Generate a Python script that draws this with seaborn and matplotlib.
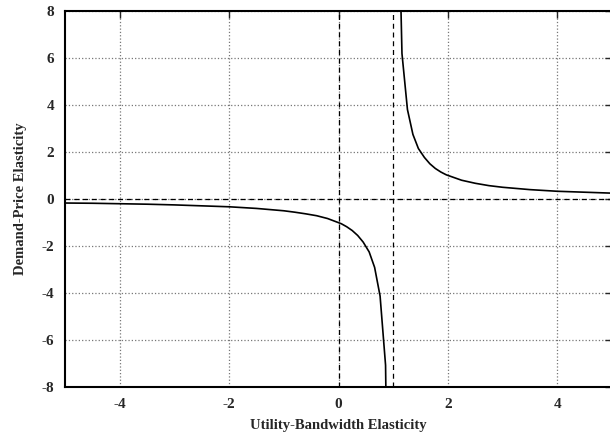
import numpy as np
import matplotlib
matplotlib.use("Agg")
import matplotlib.pyplot as plt
import seaborn as sns

# branch left of the asymptote
left_x = [-5.00, -4.50, -4.00, -3.50, -3.00, -2.50, -2.00, -1.50, -1.00, -0.80,
          -0.60, -0.40, -0.20, 0.05, 0.15, 0.25, 0.35, 0.45, 0.56, 0.66,
          0.76, 0.86, 0.96]
left_y = [-0.17, -0.18, -0.20, -0.22, -0.25, -0.29, -0.33, -0.40, -0.50, -0.56,
          -0.63, -0.71, -0.83, -1.05, -1.18, -1.34, -1.55, -1.83, -2.25, -2.91,
          -4.13, -7.07, -24.75]

# branch right of the asymptote
right_x = [1.06, 1.16, 1.26, 1.36, 1.46, 1.57, 1.67, 1.77, 1.87, 1.97,
           2.25, 2.50, 2.75, 3.00, 3.50, 4.00, 4.50, 5.00]
right_y = [16.50, 6.19, 3.81, 2.75, 2.15, 1.77, 1.50, 1.30, 1.15, 1.03,
           0.80, 0.67, 0.57, 0.50, 0.40, 0.33, 0.29, 0.25]

x_ticks = [-4, -2, 0, 2, 4]
y_ticks = [-8, -6, -4, -2, 0, 2, 4, 6, 8]
asymptote_x = 1

sns.set_style("white")
plt.rcParams['font.family'] = ['Liberation Serif', 'DejaVu Serif']
plt.rcParams['font.weight'] = 'bold'
plt.rcParams['axes.unicode_minus'] = False

fig = plt.figure(figsize=(6.1, 4.38), dpi=100)
# right border sits just past the image edge, as in the reference
ax = fig.add_axes([0.1066, 0.1164, 0.8967, 0.8584])

ax.grid(True, linestyle=':', color='#777777', linewidth=0.9)
ax.axhline(0, color='black', linestyle=(0, (4, 3)), linewidth=0.9)
ax.axvline(0, color='black', linestyle=(0, (4, 3)), linewidth=0.9)
ax.axvline(asymptote_x, color='black', linestyle=(0, (4, 3)), linewidth=0.9)

sns.lineplot(x=left_x, y=left_y, sort=False, estimator=None, color='black', linewidth=1.2, ax=ax)
sns.lineplot(x=right_x, y=right_y, sort=False, estimator=None, color='black', linewidth=1.2, ax=ax)

ax.set_xlim(-5, 5)
ax.set_ylim(-8, 8)
ax.set_xticks(x_ticks)
ax.set_yticks(y_ticks)
ax.tick_params(direction='in', length=5, width=1, top=True, right=True, labelsize=11, pad=8)
for lab in ax.get_xticklabels() + ax.get_yticklabels():
    lab.set_fontweight('bold')

for s in ax.spines.values():
    s.set_linewidth(1.5)
    s.set_color('black')

ax.set_xlabel('Utility-Bandwidth Elasticity', fontsize=10.5, fontweight='bold', labelpad=6)
ax.set_ylabel('Demand-Price Elasticity', fontsize=10.5, fontweight='bold', labelpad=10)

fig.savefig('out.png', dpi=100)
